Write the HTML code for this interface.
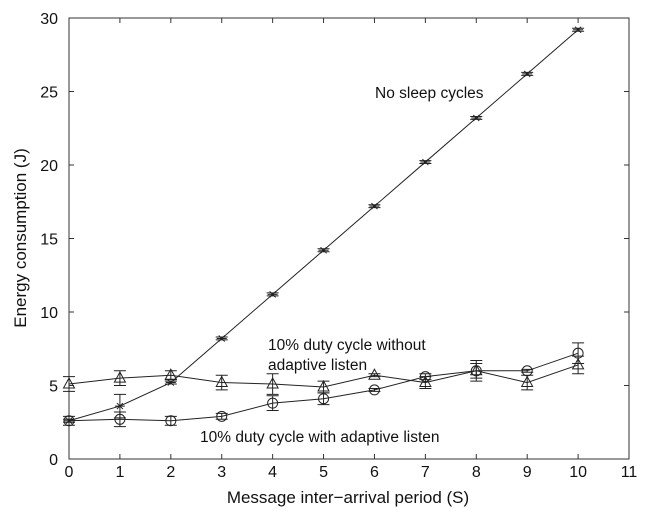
<!DOCTYPE html>
<html><head><meta charset="utf-8"><style>
html,body{margin:0;padding:0;background:#fff;}
svg text{font-family:"Liberation Sans",Arial,sans-serif;fill:#111;}
</style></head><body>
<svg id="chart" width="646" height="519" xmlns="http://www.w3.org/2000/svg">
<g id="axes"></g><g id="series"></g>
<text x="375" y="98" font-size="15.5">No sleep cycles</text>
<text x="268" y="350" font-size="15.5">10% duty cycle without</text>
<text x="268" y="370" font-size="15.5">adaptive listen</text>
<text x="200" y="442" font-size="15.5">10% duty cycle with adaptive listen</text>
<text x="348" y="503" font-size="17" text-anchor="middle">Message inter−arrival period (S)</text>
<text x="0" y="0" font-size="17" text-anchor="middle" transform="translate(26,238) rotate(-90)">Energy consumption (J)</text>
</svg>
<script>
const xs=[0,1,2,3,4,5,6,7,8,9,10];
const noSleep=[2.6,3.6,5.2,8.2,11.2,14.2,17.2,20.2,23.2,26.2,29.2];
const noSleepErr=[0.1,0.8,0.1,0.1,0.1,0.1,0.1,0.1,0.1,0.1,0.1];
const withoutAdaptive=[5.1,5.5,5.7,5.2,5.1,4.9,5.7,5.2,6.0,5.2,6.4];
const withoutErr=[0.5,0.5,0.3,0.5,0.7,0.4,0.1,0.4,0.7,0.5,0.6];
const withAdaptive=[2.6,2.7,2.6,2.9,3.8,4.1,4.7,5.6,6.0,6.0,7.2];
const withErr=[0.3,0.5,0.3,0.2,0.5,0.4,0.1,0.2,0.5,0.1,0.7];
const xTicks=[0,1,2,3,4,5,6,7,8,9,10,11];
const yTicks=[0,5,10,15,20,25,30];
const X=v=>69+v*(560/11), Y=v=>459-v*(441/30);
const NS="http://www.w3.org/2000/svg";
function mk(t,a,p){const e=document.createElementNS(NS,t);for(const k in a)e.setAttribute(k,a[k]);p.appendChild(e);return e;}
const ax=document.getElementById('axes'), se=document.getElementById('series');
const fr=mk('rect',{x:X(0),y:Y(30),width:X(11)-X(0),height:Y(0)-Y(30),fill:'none',stroke:'#333','stroke-width':1},ax);


xTicks.forEach(t=>{
 mk('line',{x1:X(t),x2:X(t),y1:Y(0),y2:Y(0)-5,stroke:'#333'},ax);
 mk('line',{x1:X(t),x2:X(t),y1:Y(30),y2:Y(30)+5,stroke:'#333'},ax);
 const tx=mk('text',{x:X(t),y:477,'font-size':16,'text-anchor':'middle'},ax);tx.textContent=t;
 
 
});
yTicks.forEach(t=>{
 mk('line',{x1:X(0),x2:X(0)+5,y1:Y(t),y2:Y(t),stroke:'#333'},ax);
 mk('line',{x1:X(11),x2:X(11)-5,y1:Y(t),y2:Y(t),stroke:'#333'},ax);
 const tx=mk('text',{x:58,y:Y(t)+6,'font-size':16,'text-anchor':'end'},ax);tx.textContent=t;
 
 
});
function series(vals,errs,marker,name){
 const g=mk('g',{},se);
 
 
 mk('polyline',{points:xs.map((x,i)=>X(x)+','+Y(vals[i])).join(' '),fill:'none',stroke:'#222','stroke-width':1},g);
 xs.forEach((x,i)=>{
  const cx=X(x),cy=Y(vals[i]),t=Y(vals[i]+errs[i]),b=Y(vals[i]-errs[i]);
  mk('path',{d:`M${cx},${t}V${b}M${cx-6},${t}H${cx+6}M${cx-6},${b}H${cx+6}`,stroke:'#222',fill:'none'},g);
  if(marker==='o')mk('circle',{cx,cy,r:5,fill:'none',stroke:'#222'},g);
  else if(marker==='t')mk('path',{d:`M${cx},${cy-6}L${cx+5.5},${cy+4}L${cx-5.5},${cy+4}Z`,fill:'none',stroke:'#222'},g);
  else mk('path',{d:`M${cx-5},${cy}H${cx+5}M${cx-3},${cy-3}L${cx+3},${cy+3}M${cx-3},${cy+3}L${cx+3},${cy-3}`,stroke:'#222'},g);
 });
}
series(noSleep,noSleepErr,'x','series-no-sleep');
series(withoutAdaptive,withoutErr,'t','series-without-adaptive');
series(withAdaptive,withErr,'o','series-with-adaptive');
</script>
</body></html>
